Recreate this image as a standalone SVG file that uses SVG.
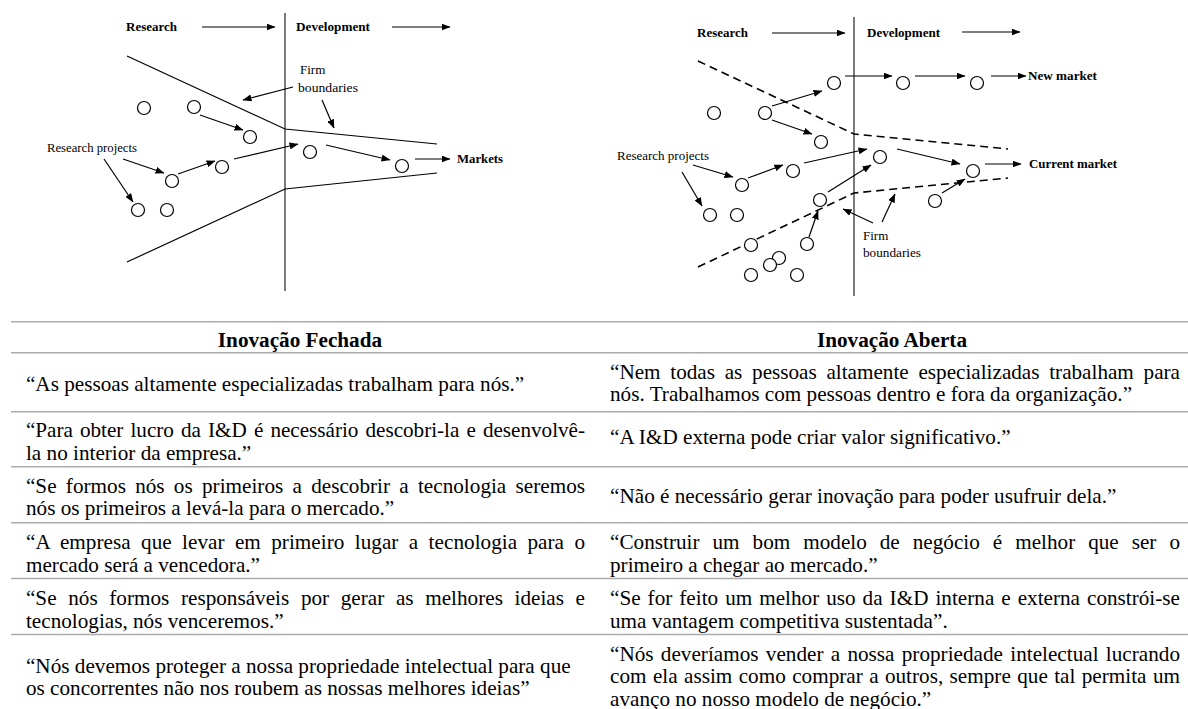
<svg xmlns="http://www.w3.org/2000/svg" width="1188" height="709" viewBox="0 0 1188 709">
<defs>
<style>
.t{font-family:"Liberation Serif","Times New Roman",serif;font-size:20px;fill:#000}
.h{font-weight:bold;text-anchor:middle}
.d{font-family:"Liberation Serif","Times New Roman",serif;font-size:13px;fill:#000}
.b{font-weight:bold}
.ln{stroke:#000;stroke-width:1.2;fill:none}
.ar{stroke:#000;stroke-width:1.2;fill:none;marker-end:url(#ah)}
.dash{stroke:#000;stroke-width:1.6;fill:none;stroke-dasharray:8 5}
.v{stroke:#5a5a5a;stroke-width:1.6}
.c{fill:#fff;stroke:#000;stroke-width:1.2}
.tl{stroke:#ababab;stroke-width:1.5}
</style>
<marker id="ah" markerWidth="9" markerHeight="7" refX="8.5" refY="3.5" orient="auto" markerUnits="userSpaceOnUse">
<path d="M0,0 L9,3.5 L0,7 z" fill="#000"/>
</marker>
</defs>
<rect width="1188" height="709" fill="#fff"/>

<g id="closed-diagram">
  <g id="closed-labels">
    <text class="d b" x="126" y="31" textLength="51" lengthAdjust="spacingAndGlyphs">Research</text>
    <text class="d b" x="296" y="31" textLength="74" lengthAdjust="spacingAndGlyphs">Development</text>
    <text class="d" x="300" y="74">Firm</text>
    <text class="d" x="298" y="92" textLength="60" lengthAdjust="spacingAndGlyphs">boundaries</text>
    <text class="d" x="47" y="152" textLength="90" lengthAdjust="spacingAndGlyphs">Research projects</text>
    <text class="d b" x="457" y="163" textLength="46" lengthAdjust="spacingAndGlyphs">Markets</text>
  </g>
  <line class="v" x1="285" y1="13" x2="285" y2="291"/>
  <g id="closed-boundaries">
    <polyline class="ln" points="127,56 285,129 437,144"/>
    <polyline class="ln" points="127,262 285,189 437,173"/>
  </g>
  <g id="closed-connectors">
    <line class="ar" x1="202" y1="27" x2="275" y2="27"/>
    <line class="ar" x1="392" y1="27" x2="450" y2="27"/>
    <line class="ar" x1="293" y1="87" x2="243" y2="100"/>
    <line class="ar" x1="322" y1="100" x2="334" y2="128"/>
    <line class="ar" x1="200" y1="115" x2="243" y2="130"/>
    <line class="ar" x1="123" y1="159" x2="164" y2="173"/>
    <line class="ar" x1="104" y1="159" x2="133" y2="202"/>
    <line class="ar" x1="178" y1="174" x2="215" y2="161"/>
    <line class="ar" x1="234" y1="159" x2="298" y2="144"/>
    <line class="ar" x1="326" y1="145" x2="390" y2="160"/>
    <line class="ar" x1="415" y1="159" x2="450" y2="159"/>
  </g>
  <g id="closed-projects">
    <circle id="cp1" class="c" cx="144" cy="108" r="6.5"/>
    <circle id="cp2" class="c" cx="194" cy="107" r="6.5"/>
    <circle id="cp3" class="c" cx="250" cy="137" r="6.5"/>
    <circle id="cp4" class="c" cx="172" cy="181" r="6.5"/>
    <circle id="cp5" class="c" cx="222" cy="167" r="6.5"/>
    <circle id="cp6" class="c" cx="310" cy="152" r="6.5"/>
    <circle id="cp7" class="c" cx="402" cy="166" r="6.5"/>
    <circle id="cp8" class="c" cx="138" cy="210" r="6.5"/>
    <circle id="cp9" class="c" cx="167" cy="210" r="6.5"/>
  </g>
</g>

<g id="open-diagram">
  <g id="open-labels">
    <text class="d b" x="697" y="37" textLength="51" lengthAdjust="spacingAndGlyphs">Research</text>
    <text class="d b" x="867" y="37" textLength="73" lengthAdjust="spacingAndGlyphs">Development</text>
    <text class="d b" x="1028" y="80" textLength="69" lengthAdjust="spacingAndGlyphs">New market</text>
    <text class="d b" x="1029" y="168" textLength="88" lengthAdjust="spacingAndGlyphs">Current market</text>
    <text class="d" x="617" y="160" textLength="92" lengthAdjust="spacingAndGlyphs">Research projects</text>
    <text class="d" x="863" y="240">Firm</text>
    <text class="d" x="863" y="257" textLength="58" lengthAdjust="spacingAndGlyphs">boundaries</text>
  </g>
  <line class="v" x1="854" y1="17" x2="854" y2="296"/>
  <g id="open-boundaries">
    <polyline class="dash" points="698,61 854,134 1008,149"/>
    <polyline class="dash" points="698,267 854,193 1008,178"/>
  </g>
  <g id="open-connectors">
    <line class="ar" x1="772" y1="33" x2="845" y2="33"/>
    <line class="ar" x1="962" y1="32" x2="1020" y2="32"/>
    <line class="ar" x1="845" y1="76" x2="892" y2="76"/>
    <line class="ar" x1="915" y1="76" x2="965" y2="76"/>
    <line class="ar" x1="991" y1="76" x2="1026" y2="76"/>
    <line class="ar" x1="772" y1="106" x2="822" y2="91"/>
    <line class="ar" x1="772" y1="120" x2="812" y2="134"/>
    <line class="ar" x1="897" y1="149" x2="960" y2="164"/>
    <line class="ar" x1="985" y1="164" x2="1021" y2="164"/>
    <line class="ar" x1="693" y1="165" x2="733" y2="177"/>
    <line class="ar" x1="682" y1="172" x2="702" y2="206"/>
    <line class="ar" x1="748" y1="178" x2="783" y2="165"/>
    <line class="ar" x1="804" y1="163" x2="867" y2="149"/>
    <line class="ar" x1="828" y1="192" x2="871" y2="165"/>
    <line class="ar" x1="809" y1="237" x2="818" y2="211"/>
    <line class="ar" x1="942" y1="193" x2="965" y2="179"/>
    <line class="ar" x1="873" y1="223" x2="843" y2="209"/>
    <line class="ar" x1="882" y1="222" x2="895" y2="194"/>
  </g>
  <g id="open-projects">
    <circle id="op1" class="c" cx="714" cy="113" r="6.5"/>
    <circle id="op2" class="c" cx="765" cy="113" r="6.5"/>
    <circle id="op3" class="c" cx="834" cy="83" r="6.5"/>
    <circle id="op4" class="c" cx="821" cy="142" r="6.5"/>
    <circle id="op5" class="c" cx="903" cy="83" r="6.5"/>
    <circle id="op6" class="c" cx="977" cy="83" r="6.5"/>
    <circle id="op7" class="c" cx="880" cy="157" r="6.5"/>
    <circle id="op8" class="c" cx="973" cy="171" r="6.5"/>
    <circle id="op9" class="c" cx="793" cy="171" r="6.5"/>
    <circle id="op10" class="c" cx="742" cy="185" r="6.5"/>
    <circle id="op11" class="c" cx="710" cy="215" r="6.5"/>
    <circle id="op12" class="c" cx="737" cy="215" r="6.5"/>
    <circle id="op13" class="c" cx="820" cy="200" r="6.5"/>
    <circle id="op14" class="c" cx="935" cy="201" r="6.5"/>
    <circle id="op15" class="c" cx="751" cy="245" r="6.5"/>
    <circle id="op16" class="c" cx="807" cy="244" r="6.5"/>
    <circle id="op17" class="c" cx="779" cy="258" r="6.5"/>
    <circle id="op18" class="c" cx="770" cy="265" r="6.5"/>
    <circle id="op19" class="c" cx="751" cy="275" r="6.5"/>
    <circle id="op20" class="c" cx="797" cy="275" r="6.5"/>
  </g>
</g>

<g id="table">
  <g id="table-rules">
    <line class="tl" x1="11" y1="321.7" x2="1188" y2="321.7"/>
    <line class="tl" x1="11" y1="352.7" x2="1188" y2="352.7"/>
    <line class="tl" x1="11" y1="411.7" x2="1188" y2="411.7"/>
    <line class="tl" x1="11" y1="466.7" x2="1188" y2="466.7"/>
    <line class="tl" x1="11" y1="522.7" x2="1188" y2="522.7"/>
    <line class="tl" x1="11" y1="578.5" x2="1188" y2="578.5"/>
    <line class="tl" x1="11" y1="634.5" x2="1188" y2="634.5"/>
  </g>
  <g id="table-text" transform="scale(1.06,1)">
    <text class="t h" x="283" y="347">Inovação Fechada</text>
    <text class="t h" x="841.5" y="347">Inovação Aberta</text>

    <text class="t" x="24.5" y="391.5">“As pessoas altamente especializadas trabalham para nós.”</text>
    <text class="t" x="24.5" y="437.5" word-spacing="1.71" textLength="527.4" lengthAdjust="spacing">“Para obter lucro da I&amp;D é necessário descobri-la e desenvolvê-</text>
    <text class="t" x="24.5" y="460">la no interior da empresa.”</text>
    <text class="t" x="24.5" y="493" word-spacing="3.73" textLength="527.4" lengthAdjust="spacing">“Se formos nós os primeiros a descobrir a tecnologia seremos</text>
    <text class="t" x="24.5" y="515.5">nós os primeiros a levá-la para o mercado.”</text>
    <text class="t" x="24.5" y="549.5" word-spacing="4.75" textLength="527.4" lengthAdjust="spacing">“A empresa que levar em primeiro lugar a tecnologia para o</text>
    <text class="t" x="24.5" y="572">mercado será a vencedora.”</text>
    <text class="t" x="24.5" y="605.5" word-spacing="5.96" textLength="527.4" lengthAdjust="spacing">“Se nós formos responsáveis por gerar as melhores ideias e</text>
    <text class="t" x="24.5" y="628">tecnologias, nós venceremos.”</text>
    <text class="t" x="24.5" y="673">“Nós devemos proteger a nossa propriedade intelectual para que</text>
    <text class="t" x="24.5" y="695.5">os concorrentes não nos roubem as nossas melhores ideias”</text>

    <text class="t" x="575.5" y="379" word-spacing="4.2" textLength="537.7" lengthAdjust="spacing">“Nem todas as pessoas altamente especializadas trabalham para</text>
    <text class="t" x="575.5" y="401.5">nós. Trabalhamos com pessoas dentro e fora da organização.”</text>
    <text class="t" x="575.5" y="444">“A I&amp;D externa pode criar valor significativo.”</text>
    <text class="t" x="575.5" y="503">“Não é necessário gerar inovação para poder usufruir dela.”</text>
    <text class="t" x="575.5" y="549.5" word-spacing="7.22" textLength="537.7" lengthAdjust="spacing">“Construir um bom modelo de negócio é melhor que ser o</text>
    <text class="t" x="575.5" y="572">primeiro a chegar ao mercado.”</text>
    <text class="t" x="575.5" y="605.5" word-spacing="1.57" textLength="537.7" lengthAdjust="spacing">“Se for feito um melhor uso da I&amp;D interna e externa constrói-se</text>
    <text class="t" x="575.5" y="628">uma vantagem competitiva sustentada”.</text>
    <text class="t" x="575.5" y="661" word-spacing="1.83" textLength="537.7" lengthAdjust="spacing">“Nós deveríamos vender a nossa propriedade intelectual lucrando</text>
    <text class="t" x="575.5" y="683.5" word-spacing="1.01" textLength="537.7" lengthAdjust="spacing">com ela assim como comprar a outros, sempre que tal permita um</text>
    <text class="t" x="575.5" y="706">avanço no nosso modelo de negócio.”</text>
  </g>
</g>
</svg>
